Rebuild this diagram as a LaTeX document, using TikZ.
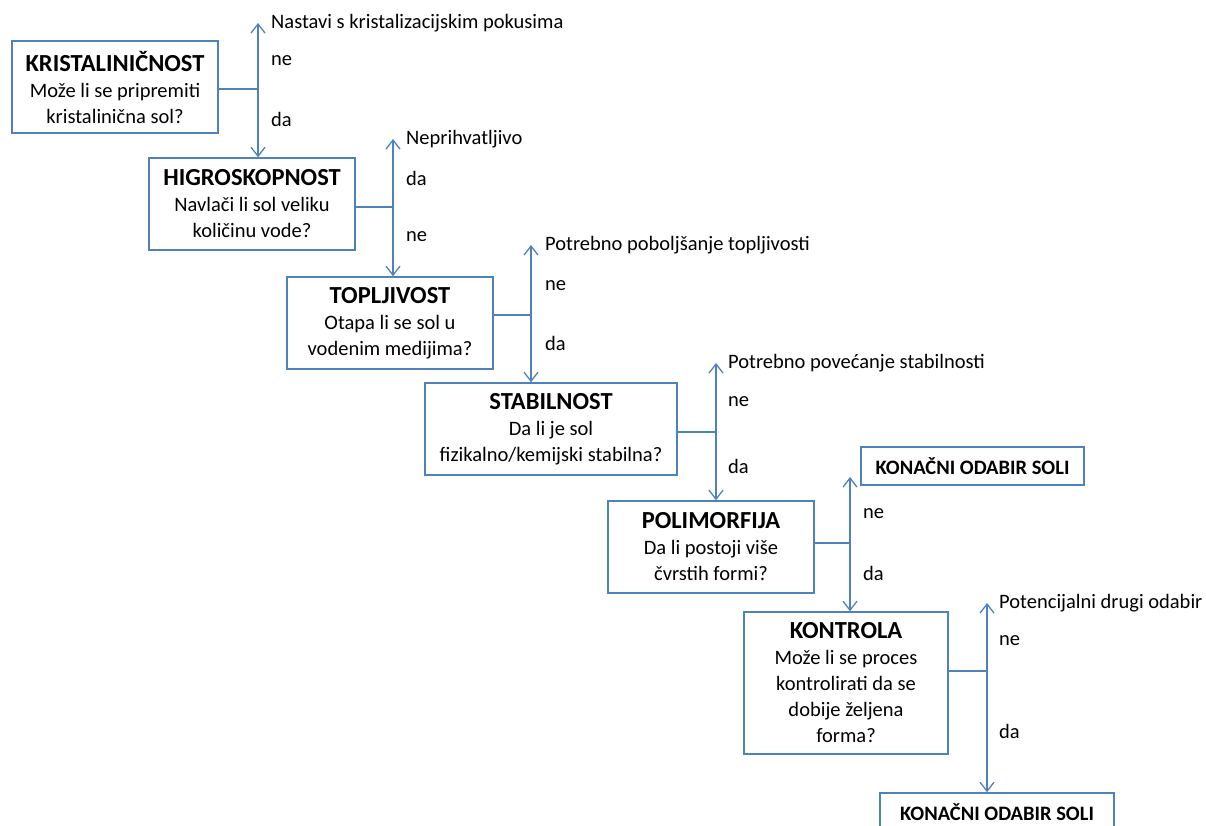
\documentclass[tikz,border=0pt]{standalone}
\usepackage{fontspec}
\setmainfont{Carlito}
\usetikzlibrary{arrows.meta, positioning}
\definecolor{boxblue}{RGB}{79,129,189}
\newcommand{\bodyfont}{\fontsize{20.5}{26}\selectfont}
\newcommand{\headfont}{\fontsize{24.5}{28}\selectfont\bfseries}
\tikzset{
	question/.style={rectangle, draw=boxblue, line width=1.5pt, align=center, minimum width=206pt, minimum height=92pt, inner sep=0pt, font=\bodyfont},
	final/.style={rectangle, draw=boxblue, line width=1.5pt, align=center, minimum width=223pt, minimum height=38pt, inner sep=0pt, font=\bodyfont\bfseries},
	answer/.style={anchor=west, inner sep=0pt, font=\bodyfont},
	branch/.style={{Straight Barb[length=9pt, width=14pt]}-{Straight Barb[length=9pt, width=14pt]}, line width=1.3pt, draw=boxblue},
	stub/.style={line width=1.8pt, draw=boxblue},
}

\begin{document}
\begin{tikzpicture}[x=1pt, y=-1pt]
	\useasboundingbox (0,0) rectangle (1206,825);
	% questions
	\node[question] (kristal) at (115,87) {{\headfont KRISTALINIČNOST}\\Može li se pripremiti\\kristalinična sol?};
	\node[question] (higro) at (252,204) {{\headfont HIGROSKOPNOST}\\Navlači li sol veliku\\količinu vode?};
	\node[question] (toplj) at (390,323) {{\headfont TOPLJIVOST}\\Otapa li se sol u\\vodenim medijima?};
	\node[question, minimum width=252pt] (stabil) at (551,429) {{\headfont STABILNOST}\\Da li je sol\\fizikalno/kemijski stabilna?};
	\node[question] (polimorf) at (711,547) {{\headfont POLIMORFIJA}\\Da li postoji više\\čvrstih formi?};
	\node[question, minimum width=204pt, minimum height=142pt] (kontrola) at (846,683) {{\headfont KONTROLA}\\Može li se proces\\kontrolirati da se\\dobije željena\\forma?};
	\node[final] (odabirA) at (972.5,466) {KONAČNI ODABIR SOLI};
	\node[final, minimum width=234pt] (odabirB) at (997,812) {KONAČNI ODABIR SOLI};
	% branch points
	\coordinate (j1) at (258,89);  \coordinate (t1) at (258,23);
	\coordinate (j2) at (393,207); \coordinate (t2) at (393,139);
	\coordinate (j3) at (531,315); \coordinate (t3) at (531,245);
	\coordinate (j4) at (716,432); \coordinate (t4) at (716,363);
	\coordinate (j5) at (850,543); \coordinate (t5) at (850,477);
	\coordinate (j6) at (987,671); \coordinate (t6) at (987,603);
	\draw[stub] (kristal.east |- j1) -- (j1);
	\draw[stub] (higro.east |- j2) -- (j2);
	\draw[stub] (toplj.east |- j3) -- (j3);
	\draw[stub] (stabil.east |- j4) -- (j4);
	\draw[stub] (polimorf.east |- j5) -- (j5);
	\draw[stub] (kontrola.east |- j6) -- (j6);
	\draw[branch] (t1) -- (t1 |- higro.north);
	\draw[branch] (t2) -- (t2 |- toplj.north);
	\draw[branch] (t3) -- (t3 |- stabil.north);
	\draw[branch] (t4) -- (t4 |- polimorf.north);
	\draw[branch] (t5) -- (t5 |- kontrola.north);
	\draw[branch] (t6) -- (t6 |- odabirB.north);
	% outcomes
	\node[answer, right=13pt of t1] (nastavi) {Nastavi s kristalizacijskim pokusima};
	\node[answer, right=13pt of t2] (neprihv) {Neprihvatljivo};
	\node[answer, right=14pt of t3] (poboljs) {Potrebno poboljšanje topljivosti};
	\node[answer, right=12pt of t4] (povec) {Potrebno povećanje stabilnosti};
	\node[answer, right=12pt of t6] (drugi) {Potencijalni drugi odabir};
	% answers
	\node[answer] (ne1) at (271,61) {ne};
	\node[answer] (da1) at (271,119) {da};
	\node[answer] (da2) at (406,178) {da};
	\node[answer] (ne2) at (406,237) {ne};
	\node[answer] (ne3) at (545,286) {ne};
	\node[answer] (da3) at (545,343) {da};
	\node[answer] (ne4) at (728,402) {ne};
	\node[answer] (da4) at (728,466) {da};
	\node[answer] (ne5) at (863,514) {ne};
	\node[answer] (da5) at (863,573) {da};
	\node[answer] (ne6) at (999,641) {ne};
	\node[answer] (da6) at (999,731) {da};
\end{tikzpicture}
\end{document}
